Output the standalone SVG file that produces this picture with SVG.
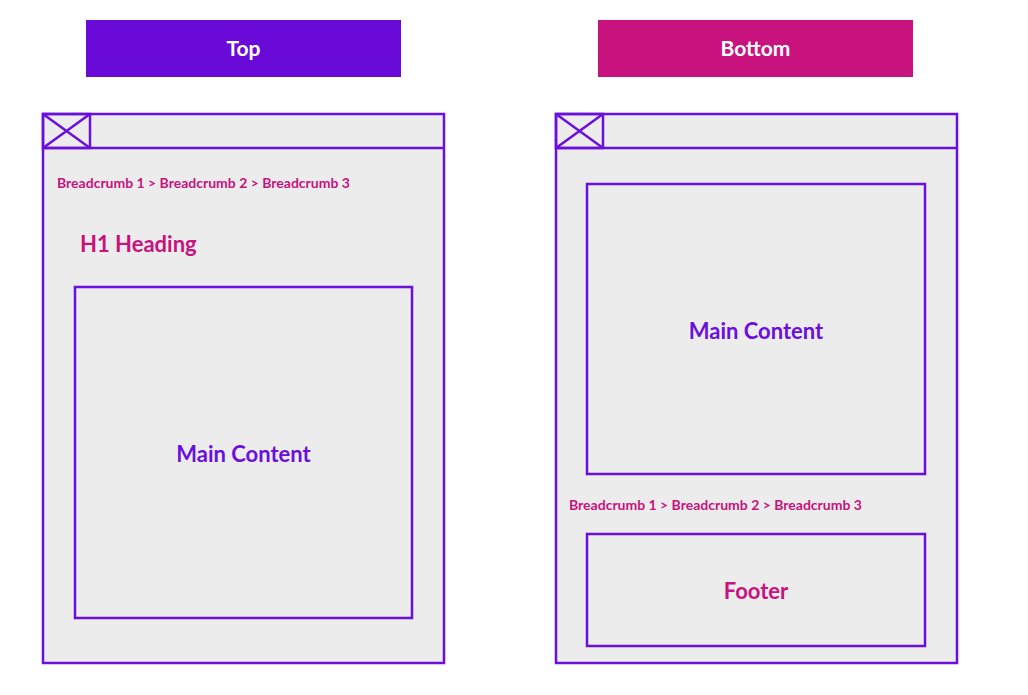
<svg xmlns="http://www.w3.org/2000/svg" width="1028" height="695" viewBox="0 0 1028 695">
<style>
.f{fill:#ececec;stroke:#6a0fdd;stroke-width:2.5}
.l{stroke:#6a0fdd;stroke-width:2.5;fill:none}
text{font-family:Lato,"Open Sans",sans-serif;font-weight:bold}
.p{fill:#c8127e}
.v{fill:#6a0fdd}
</style>
<rect width="1028" height="695" fill="#fff"/>
<g id="top-label"><rect x="86" y="20" width="315" height="57" fill="#6a0ad8"/><text x="243.5" y="56" font-size="21" fill="#fff" text-anchor="middle">Top</text></g>
<g id="bottom-label"><rect x="598" y="20" width="315" height="57" fill="#c8127e"/><text x="755.5" y="56" font-size="21" fill="#fff" text-anchor="middle">Bottom</text></g>
<g id="top-frame">
<rect class="f" x="43" y="114" width="401" height="549"/>
<line class="l" x1="43" y1="148" x2="444" y2="148"/>
<rect class="l" x="43" y="114" width="47" height="34"/>
<path class="l" d="M43 114L90 148M90 114L43 148"/>
<text class="p" x="57" y="188" font-size="14">Breadcrumb 1 &gt; Breadcrumb 2 &gt; Breadcrumb 3</text>
<text class="p" x="80" y="252" font-size="22">H1 Heading</text>
</g>
<g id="top-main"><rect class="f" x="75" y="287" width="337" height="331"/><text class="v" x="243.5" y="462" font-size="22" text-anchor="middle">Main Content</text></g>
<g id="bottom-frame">
<rect class="f" x="556" y="114" width="401" height="549"/>
<line class="l" x1="556" y1="148" x2="957" y2="148"/>
<rect class="l" x="556" y="114" width="47" height="34"/>
<path class="l" d="M556 114L603 148M603 114L556 148"/>
<text class="p" x="569" y="510" font-size="14">Breadcrumb 1 &gt; Breadcrumb 2 &gt; Breadcrumb 3</text>
</g>
<g id="bottom-main"><rect class="f" x="587" y="184" width="338" height="290"/><text class="v" x="756" y="339" font-size="22" text-anchor="middle">Main Content</text></g>
<g id="footer"><rect class="f" x="587" y="534" width="338" height="112"/><text class="p" x="756" y="599" font-size="22" text-anchor="middle">Footer</text></g>
<g id="connectors"/>
</svg>
